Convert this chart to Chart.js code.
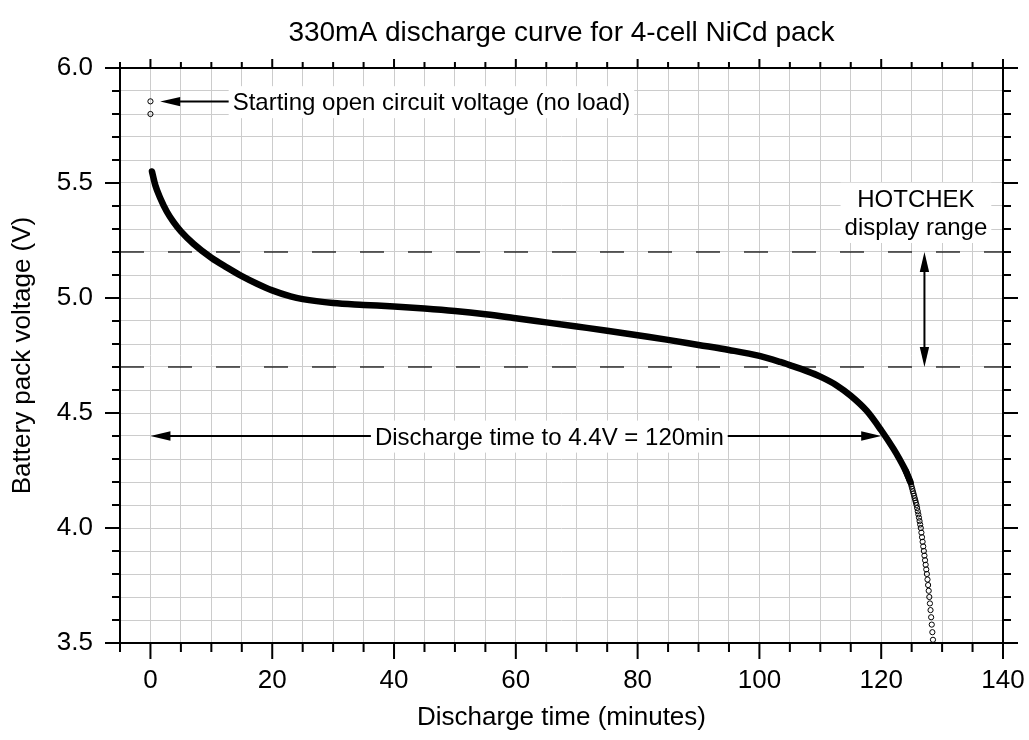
<!DOCTYPE html>
<html>
<head>
<meta charset="utf-8">
<script src="https://cdn.jsdelivr.net/npm/chart.js@4.4.0/dist/chart.umd.min.js"></script>
<style>
  html, body { margin: 0; padding: 0; background: #fff; }
  #wrap { width: 1029px; height: 740px; }
</style>
</head>
<body>
<div id="wrap"><canvas id="discharge"></canvas></div>
<script>
// values: minutes / volts
var curveTime = [0.25, 0.8, 1.6, 2.7, 3.8, 5, 7.1, 10, 12.6, 15, 17.5, 20, 23, 25, 30, 35, 40, 45, 50, 55,
  60, 65, 70, 75, 80, 85, 90, 95, 100, 103.4, 105, 107.8, 110, 112.7, 115, 117.6, 120, 122, 123, 124, 124.8];
var curveVolts = [5.55, 5.49, 5.435, 5.375, 5.33, 5.29, 5.235, 5.175, 5.132, 5.095, 5.062, 5.033, 5.007, 4.995, 4.978, 4.970, 4.963, 4.954, 4.943, 4.929,
  4.912, 4.894, 4.876, 4.858, 4.838, 4.818, 4.796, 4.774, 4.748, 4.722, 4.708, 4.682, 4.658, 4.62, 4.575, 4.51, 4.425, 4.345, 4.30, 4.25, 4.20];

// the end of the run, where the samples separate into single circles
var tailTime = [124.0, 124.1, 124.2, 124.3, 124.4, 124.5, 124.6, 124.7, 124.8, 124.9,
  125.0, 125.1, 125.2, 125.3, 125.4, 125.5, 125.6, 125.7, 125.8, 125.9,
  126.0, 126.1, 126.2, 126.3, 126.4, 126.5, 126.6, 126.7, 126.8, 126.9,
  127.0, 127.1, 127.2, 127.3, 127.4, 127.5, 127.6, 127.7, 127.8, 127.9,
  128.0, 128.1, 128.2, 128.3, 128.4, 128.5];
var tailVolts = [4.25, 4.244, 4.238, 4.231, 4.224, 4.217, 4.21, 4.205, 4.198, 4.19,
  4.18, 4.17, 4.16, 4.15, 4.14, 4.13, 4.12, 4.11, 4.10, 4.087,
  4.073, 4.059, 4.045, 4.03, 4.015, 4.00, 3.98, 3.96, 3.94, 3.92,
  3.90, 3.88, 3.86, 3.84, 3.82, 3.80, 3.776, 3.752, 3.727, 3.70,
  3.672, 3.643, 3.612, 3.58, 3.547, 3.514];

// open circuit readings before the load went on
var ocvTime = [0, 0];
var ocvVolts = [5.855, 5.80];

// HOTCHEK display window
var displayRange = [5.2, 4.7];

var FONT = '"Liberation Sans", Arial, Helvetica, sans-serif';

function xy(xs, ys) {
  return xs.map(function(x, i) { return { x: x, y: ys[i] }; });
}
function hline(v) {
  return [{ x: -5, y: v }, { x: 140, y: v }];
}
function isMajorX(v) { return Math.round(v) % 20 === 0; }
function isMajorY(v) { return Math.round(v * 10) % 5 === 0; }

// tick marks outside all four sides + the frame
var frameTicks = {
  id: 'frameTicks',
  afterDraw: function(chart) {
    var ctx = chart.ctx, a = chart.chartArea;
    var xs = chart.scales.x, ys = chart.scales.y;
    ctx.save();
    ctx.strokeStyle = '#000';
    ctx.lineWidth = 2;
    ctx.beginPath();
    xs.ticks.forEach(function(t) {
      var px = xs.getPixelForValue(t.value);
      var big = isMajorX(t.value);
      ctx.moveTo(px, a.bottom); ctx.lineTo(px, a.bottom + (big ? 16 : 9));
      ctx.moveTo(px, a.top); ctx.lineTo(px, a.top - (big ? 9 : 6));
    });
    ys.ticks.forEach(function(t) {
      var py = ys.getPixelForValue(t.value);
      var big = isMajorY(t.value);
      ctx.moveTo(a.left, py); ctx.lineTo(a.left - (big ? 15 : 8), py);
      ctx.moveTo(a.right, py); ctx.lineTo(a.right + (big ? 15 : 8), py);
    });
    ctx.stroke();
    ctx.strokeRect(a.left, a.top, a.right - a.left, a.bottom - a.top);
    ctx.restore();
  }
};

function arrowHead(ctx, x, y, dx, dy) {
  // filled triangle, tip at (x,y), pointing along (dx,dy)
  var len = 20, half = 4.7;
  ctx.beginPath();
  ctx.moveTo(x, y);
  ctx.lineTo(x - dx * len - dy * half, y - dy * len + dx * half);
  ctx.lineTo(x - dx * len + dy * half, y - dy * len - dx * half);
  ctx.closePath();
  ctx.fill();
}

function boxedText(ctx, lines, cx, baselines, align) {
  var w = 0;
  lines.forEach(function(s) { w = Math.max(w, ctx.measureText(s).width); });
  var left = align === 'left' ? cx : cx - w / 2;
  ctx.fillStyle = '#fff';
  ctx.fillRect(left - 4, baselines[0] - 24, w + 8, baselines[baselines.length - 1] - baselines[0] + 32);
  ctx.fillStyle = '#000';
  ctx.textAlign = align;
  ctx.textBaseline = 'alphabetic';
  lines.forEach(function(s, i) { ctx.fillText(s, cx, baselines[i]); });
}

var notes = {
  id: 'notes',
  afterDatasetsDraw: function(chart) {
    var ctx = chart.ctx, xs = chart.scales.x, ys = chart.scales.y;
    var X = function(v) { return xs.getPixelForValue(v); };
    var Y = function(v) { return ys.getPixelForValue(v); };
    ctx.save();
    ctx.font = '24px ' + FONT;
    ctx.strokeStyle = '#000';
    ctx.fillStyle = '#000';
    ctx.lineWidth = 2;

    // open circuit note
    var yo = Y(5.854);
    ctx.beginPath(); ctx.moveTo(X(1.6) + 15, yo); ctx.lineTo(X(13.0), yo); ctx.stroke();
    arrowHead(ctx, X(1.6), yo, -1, 0);
    boxedText(ctx, ['Starting open circuit voltage (no load)'], X(13.5), [yo + 8.6], 'left');

    // HOTCHEK range
    var xa = X(127.1);
    ctx.beginPath(); ctx.moveTo(xa, Y(displayRange[0]) + 15); ctx.lineTo(xa, Y(displayRange[1]) - 15); ctx.stroke();
    arrowHead(ctx, xa, Y(displayRange[0]), 0, -1);
    arrowHead(ctx, xa, Y(displayRange[1]), 0, 1);
    boxedText(ctx, ['HOTCHEK', 'display range'], X(125.7), [Y(5.397), Y(5.274)], 'center');

    // discharge time arrow
    var yd = Y(4.4);
    ctx.beginPath(); ctx.moveTo(X(0) + 15, yd); ctx.lineTo(X(120) - 15, yd); ctx.stroke();
    arrowHead(ctx, X(0), yd, -1, 0);
    arrowHead(ctx, X(120), yd, 1, 0);
    boxedText(ctx, ['Discharge time to 4.4V = 120min'], X(65.5), [yd + 8.6], 'center');
    ctx.restore();
  }
};

var ctx = document.getElementById('discharge');
new Chart(ctx, {
  type: 'scatter',
  data: {
    datasets: [
      {
        data: xy(curveTime, curveVolts),
        showLine: true,
        borderColor: '#000',
        borderWidth: 6.5,
        borderCapStyle: 'round',
        borderJoinStyle: 'round',
        cubicInterpolationMode: 'monotone',
        pointRadius: 0
      },
      {
        data: xy(tailTime, tailVolts),
        pointRadius: 2.6,
        pointBorderWidth: 1,
        pointBorderColor: '#000',
        pointBackgroundColor: 'rgba(255,255,255,0)'
      },
      {
        data: xy(ocvTime, ocvVolts),
        pointRadius: 2.6,
        pointBorderWidth: 1,
        pointBorderColor: '#000',
        pointBackgroundColor: 'rgba(255,255,255,0)'
      },
      {
        data: hline(displayRange[0]),
        showLine: true, borderColor: '#000', borderWidth: 1.2, borderDash: [24, 24], pointRadius: 0
      },
      {
        data: hline(displayRange[1]),
        showLine: true, borderColor: '#000', borderWidth: 1.2, borderDash: [24, 24], pointRadius: 0
      }
    ]
  },
  options: {
    responsive: true,
    maintainAspectRatio: false,
    animation: false,
    layout: { padding: { left: 0, right: 26, top: 0, bottom: 0 } },
    plugins: {
      legend: { display: false },
      tooltip: { enabled: false },
      title: {
        display: true,
        text: '330mA discharge curve for 4-cell NiCd pack',
        fullSize: false,
        color: '#000',
        font: { family: FONT, size: 28, weight: 'normal' },
        padding: { top: 16, bottom: 18.4 }
      }
    },
    scales: {
      x: {
        type: 'linear',
        min: -5,
        max: 140,
        afterFit: function(s) { s.height = 97; s.paddingLeft = 0; s.paddingRight = 0; },
        ticks: {
          stepSize: 5,
          autoSkip: false,
          maxRotation: 0,
          padding: 22,
          color: '#000',
          font: { family: FONT, size: 26 },
          callback: function(v) { return isMajorX(v) ? String(v) : ''; }
        },
        grid: { color: '#cccccc', lineWidth: 1, drawTicks: false },
        border: { display: false },
        title: {
          display: true,
          text: 'Discharge time (minutes)',
          color: '#000',
          font: { family: FONT, size: 26 },
          padding: { top: 0, bottom: 7 }
        }
      },
      y: {
        type: 'linear',
        min: 3.5,
        max: 6.0,
        afterFit: function(s) { s.width = 120; },
        ticks: {
          stepSize: 0.1,
          autoSkip: false,
          padding: 27,
          color: '#000',
          font: { family: FONT, size: 26 },
          callback: function(v) { return isMajorY(v) ? v.toFixed(1) : ''; }
        },
        grid: { color: '#cccccc', lineWidth: 1, drawTicks: false },
        border: { display: false },
        title: {
          display: true,
          text: 'Battery pack voltage (V)',
          color: '#000',
          font: { family: FONT, size: 26 },
          padding: { top: 7, bottom: 0 }
        }
      }
    }
  },
  plugins: [frameTicks, notes]
});
</script>
</body>
</html>
